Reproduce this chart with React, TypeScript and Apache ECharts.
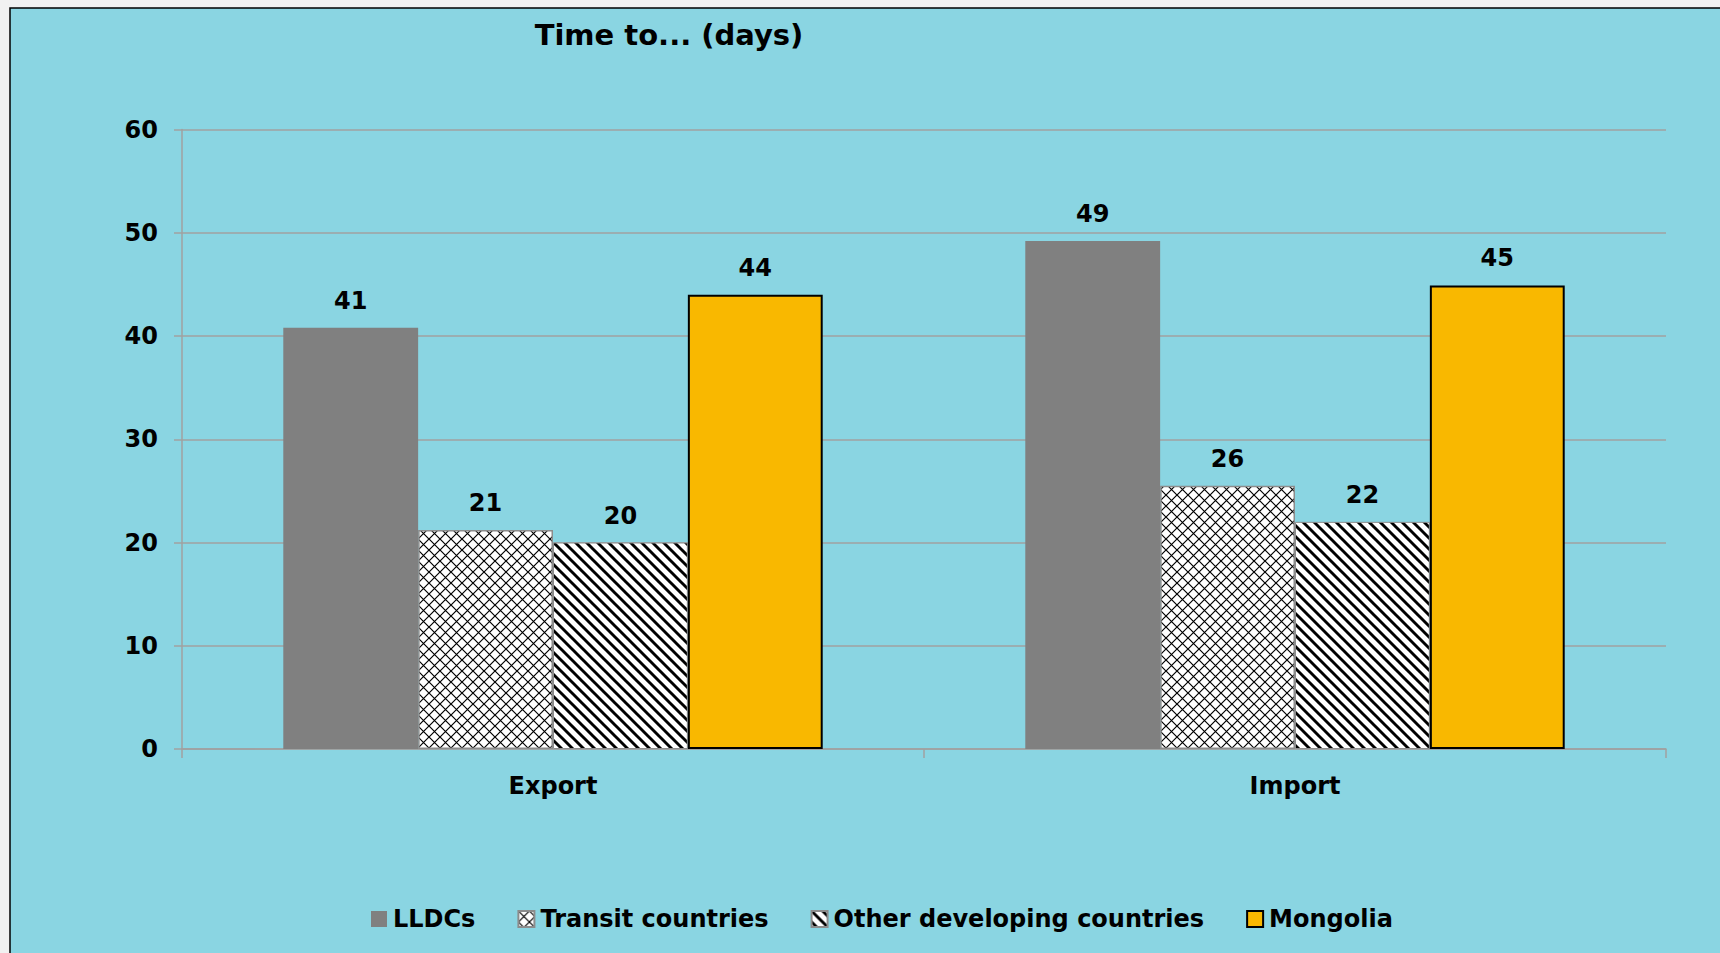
import React, { useEffect, useRef } from "react";
import * as echarts from "echarts";

const categories = ["Export", "Import"];
const seriesNames = ["LLDCs", "Transit countries", "Other developing countries", "Mongolia"];
const lldcs = [40.8, 49.2];
const transit = [21.2, 25.5];
const otherDev = [20.0, 22.0];
const mongolia = [44.0, 44.9];
const yMin = 0;
const yMax = 60;
const yStep = 10;
const titleText = "Time to... (days)";

const FONT = "DejaVu Sans";

function crossTile(): string {
  const s = 11;
  const c = document.createElement("canvas");
  c.width = s;
  c.height = s;
  const g = c.getContext("2d")!;
  g.fillStyle = "#ffffff";
  g.fillRect(0, 0, s, s);
  g.strokeStyle = "#000000";
  g.lineWidth = 1.2;
  g.beginPath();
  g.moveTo(-1, -1);
  g.lineTo(s + 1, s + 1);
  g.moveTo(s + 1, -1);
  g.lineTo(-1, s + 1);
  g.stroke();
  return c.toDataURL();
}

function stripeTile(): string {
  const s = 11;
  const c = document.createElement("canvas");
  c.width = s;
  c.height = s;
  const g = c.getContext("2d")!;
  g.fillStyle = "#ffffff";
  g.fillRect(0, 0, s, s);
  g.strokeStyle = "#000000";
  g.lineWidth = 2.9;
  g.beginPath();
  for (const k of [-s, 0, s]) {
    g.moveTo(k - 3, -3);
    g.lineTo(k + s + 3, s + 3);
  }
  g.stroke();
  return c.toDataURL();
}

export default function App() {
  const ref = useRef<HTMLDivElement>(null);
  useEffect(() => {
    if (!ref.current) return;
    const chart = echarts.init(ref.current, undefined, { renderer: "svg" });
    const crossPattern: any = { image: crossTile(), repeat: "repeat", imageWidth: 11, imageHeight: 11 };
    const stripePattern: any = { image: stripeTile(), repeat: "repeat", imageWidth: 11, imageHeight: 11 };

    const label = {
      show: true,
      position: "top",
      distance: 15,
      fontFamily: FONT,
      fontWeight: "bold",
      fontSize: 24,
      color: "#000",
      formatter: (p: any) => String(Math.round(p.value)),
    };

    const styles: any[] = [
      { color: "#808080" },
      { color: crossPattern, borderColor: "#8c8c8c", borderWidth: 1.5 },
      { color: stripePattern, borderColor: "#8c8c8c", borderWidth: 1 },
      { color: "#F9B800", borderColor: "#000000", borderWidth: 2 },
    ];
    const dataSets = [lldcs, transit, otherDev, mongolia];

    chart.setOption({
      animation: false,
      backgroundColor: "#f1f1f1",
      graphic: [
        {
          type: "rect",
          z: -100,
          silent: true,
          shape: { x: 10, y: 8, width: 1720, height: 960 },
          style: { fill: "#8AD5E2", stroke: "#000", lineWidth: 1.5 },
        },
        {
          type: "text",
          x: 669,
          y: 35,
          style: {
            text: titleText,
            fontFamily: FONT,
            fontWeight: "bold",
            fontSize: 29,
            fill: "#000",
            align: "center",
            verticalAlign: "middle",
          },
        },
      ],
      grid: { left: 182, right: 54, top: 129.5, bottom: 204 },
      legend: {
        data: seriesNames,
        left: 366,
        top: 902,
        icon: "rect",
        itemWidth: 16,
        itemHeight: 16,
        itemGap: 42,
        textStyle: {
          fontFamily: FONT,
          fontWeight: "bold",
          fontSize: 24,
          color: "#000",
          padding: [0, 0, 0, 1],
        },
      },
      xAxis: {
        type: "category",
        data: categories,
        axisLine: { lineStyle: { color: "#A0A0A0", width: 1.5 } },
        axisTick: { show: true, length: 9, lineStyle: { color: "#A0A0A0", width: 1.5 } },
        axisLabel: {
          fontFamily: FONT,
          fontWeight: "bold",
          fontSize: 24,
          color: "#000",
          margin: 25,
        },
      },
      yAxis: {
        type: "value",
        min: yMin,
        max: yMax,
        interval: yStep,
        axisLine: { show: true, lineStyle: { color: "#A0A0A0", width: 1.5 } },
        axisTick: { show: true, length: 8, lineStyle: { color: "#A0A0A0", width: 1.5 } },
        splitLine: { lineStyle: { color: "#A0A0A0", width: 1.5 } },
        axisLabel: {
          fontFamily: FONT,
          fontWeight: "bold",
          fontSize: 24,
          color: "#000",
          margin: 24,
        },
      },
      series: seriesNames.map((name, i) => ({
        name,
        type: "bar",
        data: dataSets[i],
        barGap: "0%",
        barCategoryGap: "27.3%",
        itemStyle: styles[i],
        label,
      })),
    });
    return () => chart.dispose();
  }, []);
  return (
    <div
      ref={ref}
      style={{ position: "absolute", left: 0, top: 0, width: 1720, height: 953 }}
    />
  );
}
